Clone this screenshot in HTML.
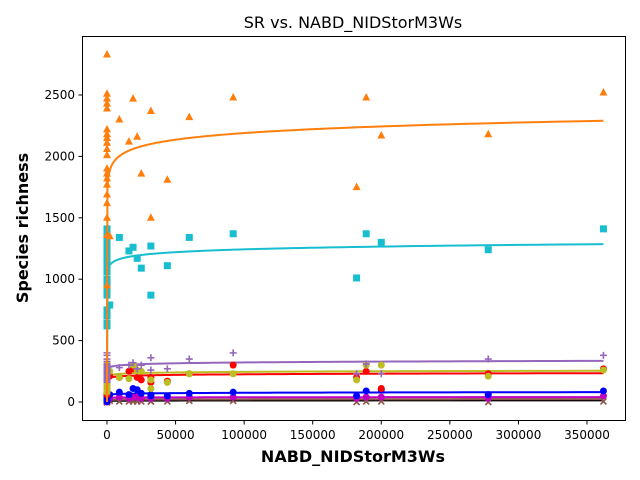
<!DOCTYPE html>
<html><head><meta charset="utf-8"><style>
body{margin:0;background:#fff;font-family:"Liberation Sans","DejaVu Sans",sans-serif}
svg{display:block}
</style></head><body>
<svg id="chart" width="640" height="480" viewBox="0 0 640 480" xmlns="http://www.w3.org/2000/svg">
<rect width="640" height="480" fill="#fff"/>
<text x="353" y="28" font-size="16" text-anchor="middle" font-family="DejaVu Sans, sans-serif">SR vs. NABD_NIDStorM3Ws</text>
<text x="353" y="462" font-size="16" font-weight="bold" text-anchor="middle" font-family="DejaVu Sans, sans-serif">NABD_NIDStorM3Ws</text>
<text x="28" y="228" font-size="16" font-weight="bold" text-anchor="middle" transform="rotate(-90 28 228)" font-family="DejaVu Sans, sans-serif">Species richness</text>
<g id="ticks"></g>
<g id="plot"></g>
<rect x="82.5" y="36.5" width="543" height="384" fill="none" stroke="#000" stroke-width="1"/>
</svg>
<script>
const xTicks=[0,50000,100000,150000,200000,250000,300000,350000];
const yTicks=[0,500,1000,1500,2000,2500];
const xs=[0,0,0,0,0,0,0,0,0,0,0,0,0,0,0,0,0,0,0,0,2000,9000,16000,19000,22000,25000,32000,32000,44000,60000,92000,182000,189000,200000,278000,362000];
const orangeY=[2830,2510,2470,2430,2390,2220,2180,2150,2110,2060,2010,1900,1860,1820,1770,1690,1620,1500,1360,950,1350,2300,2120,2470,2160,1860,2370,1500,1810,2320,2480,1750,2480,2170,2180,2520];
const cyanY=[1410,1380,1350,1320,1290,1260,1230,1200,1170,1130,1100,1060,1000,950,900,870,750,700,640,620,790,1340,1230,1260,1170,1090,1270,870,1110,1340,1370,1010,1370,1300,1240,1410];
const purpleY=[400,380,350,330,310,300,290,280,270,260,250,240,230,220,210,200,190,180,170,160,290,280,300,320,270,300,360,260,270,350,400,230,310,230,350,380];
const yellowY=[310,280,260,250,240,230,220,200,190,180,170,160,150,140,130,120,110,100,90,80,250,200,190,300,260,250,180,110,160,230,230,180,300,300,210,260];
const redY=[290,270,250,230,210,200,190,180,170,160,150,140,130,120,110,100,90,80,70,60,210,200,250,270,200,180,160,200,170,230,300,200,250,110,230,270];
const blueY=[120,100,90,80,70,65,60,55,50,45,40,35,30,25,20,15,10,8,5,3,60,80,60,110,100,70,60,50,50,70,80,50,90,100,60,90];
const magentaY=[70,60,50,45,40,35,30,25,20,15,12,10,8,6,5,4,3,2,1,0,30,40,30,40,40,30,30,30,30,40,40,30,40,40,30,50];
const brownY=[30,25,20,15,12,10,8,6,5,4,3,2,1,0,0,0,0,0,0,0,10,5,5,5,5,5,5,5,5,10,10,0,5,5,0,5];
const fitA=[1292,863,207,165,145,29,27,8,3];
const fitB=[78,33,10,7,7,4,1,1.2,0.8];
const fitColors=['#ff7f0e','#17becf','#9467bd','#bcbd22','#ff0000','#0000ff','#c000c0','#8c564b','#000000'];
const fitNames=['orange','cyan','purple','yellow','red','blue','magenta','brown','black'];
const fitXmax=362000;

const X=v=>107+v*480/350000, Y=v=>402-v*307/2500;
const NS='http://www.w3.org/2000/svg';
const plot=document.getElementById('plot'), tk=document.getElementById('ticks');
function mk(tag,attrs,parent){const e=document.createElementNS(NS,tag);for(const k in attrs)e.setAttribute(k,attrs[k]);parent.appendChild(e);return e;}
xTicks.forEach(t=>{
  const l=mk('line',{x1:X(t),x2:X(t),y1:420.5,y2:424.5,stroke:'#000'},tk);
  
  
  const s=mk('text',{x:X(t),y:439,'font-size':12,'text-anchor':'middle','font-family':'DejaVu Sans, sans-serif'},tk);s.textContent=t;
  
  
});
yTicks.forEach(t=>{
  const l=mk('line',{x1:78.5,x2:82.5,y1:Y(t),y2:Y(t),stroke:'#000'},tk);
  
  
  const s=mk('text',{x:75,y:Y(t)+4,'font-size':12,'text-anchor':'end','font-family':'DejaVu Sans, sans-serif'},tk);s.textContent=t;
  
  
});
function marker(kind,color,x,y,name){
  let e;
  if(kind==='tri') e=mk('polygon',{points:`${x},${y-4.5} ${x-4},${y+3} ${x+4},${y+3}`,fill:color},plot);
  else if(kind==='sq') e=mk('rect',{x:x-3.5,y:y-3.5,width:7,height:7,fill:color},plot);
  else if(kind==='plus') e=mk('path',{d:`M${x-3.5},${y}H${x+3.5}M${x},${y-3.5}V${y+3.5}`,stroke:color,'stroke-width':1.6,fill:'none'},plot);
  else if(kind==='x') e=mk('path',{d:`M${x-3},${y-3}L${x+3},${y+3}M${x-3},${y+3}L${x+3},${y-3}`,stroke:color,'stroke-width':1.6,fill:'none'},plot);
  else e=mk('circle',{cx:x,cy:y,r:3.5,fill:color},plot);
  
  
}
const series=[[brownY,'x','#8c564b','brown-point'],[magentaY,'c','#c000c0','magenta-point'],[blueY,'c','#0000ff','blue-point'],[redY,'c','#ff0000','red-point'],[yellowY,'c','#bcbd22','yellow-point'],[purpleY,'plus','#9467bd','purple-point'],[cyanY,'sq','#17becf','cyan-point'],[orangeY,'tri','#ff7f0e','orange-point']];
function fitLine(i){
  let d='M'+X(0)+','+Y(0);
  const k0=2.5,k1=Math.log10(fitXmax),n=150;
  for(let s=0;s<=n;s++){const x=Math.pow(10,k0+(k1-k0)*s/n);const y=Math.max(0,fitA[i]+fitB[i]*Math.log(x));d+='L'+X(x).toFixed(2)+','+Y(y).toFixed(2);}
  const p=mk('path',{d:d,stroke:fitColors[i],'stroke-width':2,fill:'none'},plot);
  
  
}
for(let i=fitA.length-1;i>=2;i--) fitLine(i);
series.slice(0,6).forEach(s=>xs.forEach((x,j)=>marker(s[1],s[2],X(x),Y(s[0][j]),s[3])));
fitLine(1);
series.slice(6).forEach(s=>xs.forEach((x,j)=>marker(s[1],s[2],X(x),Y(s[0][j]),s[3])));
fitLine(0);
</script>
</body></html>
